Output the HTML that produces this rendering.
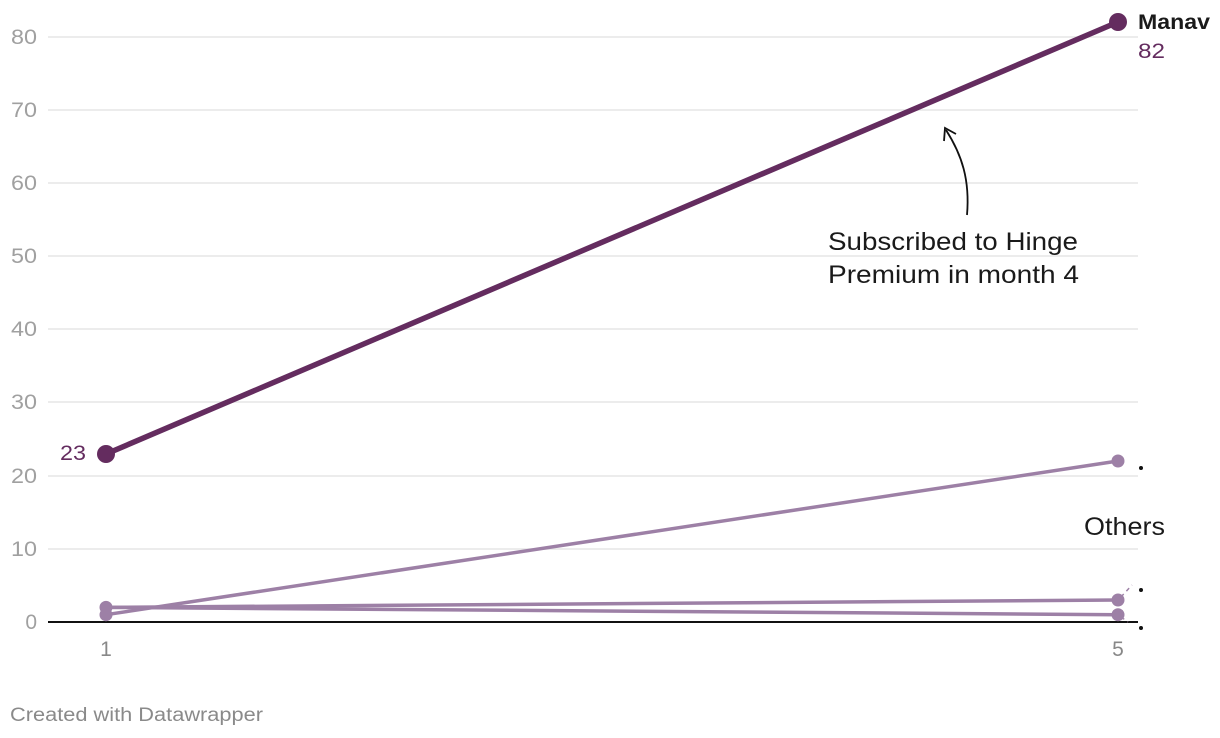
<!DOCTYPE html>
<html><head><meta charset="utf-8"><style>
html,body{margin:0;padding:0;background:#fff;}
svg{display:block;font-family:"Liberation Sans",sans-serif;}
</style></head><body>
<svg width="1220" height="738" viewBox="0 0 1220 738">
<g stroke="#e6e6e6" stroke-width="1.5">
<line x1="48" x2="1138" y1="37" y2="37"/>
<line x1="48" x2="1138" y1="110" y2="110"/>
<line x1="48" x2="1138" y1="183" y2="183"/>
<line x1="48" x2="1138" y1="256" y2="256"/>
<line x1="48" x2="1138" y1="329" y2="329"/>
<line x1="48" x2="1138" y1="402" y2="402"/>
<line x1="48" x2="1138" y1="476" y2="476"/>
<line x1="48" x2="1138" y1="549" y2="549"/>
</g>
<line x1="48" x2="1138" y1="622" y2="622" stroke="#111" stroke-width="2"/>
<g fill="#a0a0a0" font-size="21" text-anchor="end">
<text x="37" y="44" textLength="26" lengthAdjust="spacingAndGlyphs">80</text><text x="37" y="117" textLength="26" lengthAdjust="spacingAndGlyphs">70</text><text x="37" y="190" textLength="26" lengthAdjust="spacingAndGlyphs">60</text>
<text x="37" y="263" textLength="26" lengthAdjust="spacingAndGlyphs">50</text><text x="37" y="336" textLength="26" lengthAdjust="spacingAndGlyphs">40</text><text x="37" y="409" textLength="26" lengthAdjust="spacingAndGlyphs">30</text>
<text x="37" y="483" textLength="26" lengthAdjust="spacingAndGlyphs">20</text><text x="37" y="556" textLength="26" lengthAdjust="spacingAndGlyphs">10</text><text x="37" y="629">0</text>
</g>
<g fill="#888" font-size="21" text-anchor="middle">
<text x="106" y="656">1</text><text x="1118" y="656">5</text>
</g>
<g stroke="#9d80a6" stroke-width="3.5" fill="none">
<line x1="106" y1="614.7" x2="1118" y2="461"/>
<line x1="106" y1="607.4" x2="1118" y2="600"/>
<line x1="106" y1="607.4" x2="1118" y2="614.7"/>
</g>
<g fill="#9d80a6">
<circle cx="106" cy="614.7" r="6.5"/><circle cx="106" cy="607.4" r="6.5"/>
<circle cx="1118" cy="461" r="6.5"/><circle cx="1118" cy="600" r="6.5"/><circle cx="1118" cy="614.7" r="6.5"/>
</g>
<g stroke="#9d80a6" stroke-width="1.5" stroke-dasharray="4,4">
<line x1="1121" y1="597" x2="1132" y2="585"/>
<line x1="1121" y1="617" x2="1128" y2="622"/>
</g>
<g fill="#111">
<circle cx="1141" cy="468" r="2"/><circle cx="1141" cy="590" r="2"/><circle cx="1141" cy="628" r="2"/>
</g>
<text x="1084" y="535" font-size="25" fill="#1a1a1a" textLength="81" lengthAdjust="spacingAndGlyphs">Others</text>
<line x1="106" y1="454" x2="1118" y2="22" stroke="#642c5f" stroke-width="5.5"/>
<circle cx="106" cy="454" r="9" fill="#642c5f"/>
<circle cx="1118" cy="22" r="9" fill="#642c5f"/>
<text x="86" y="460" font-size="21" fill="#642c5f" text-anchor="end" textLength="26" lengthAdjust="spacingAndGlyphs">23</text>
<text x="1138" y="29" font-size="21" font-weight="bold" fill="#1a1a1a" textLength="72" lengthAdjust="spacingAndGlyphs">Manav</text>
<text x="1138" y="58" font-size="21" fill="#642c5f" textLength="27" lengthAdjust="spacingAndGlyphs">82</text>
<path d="M967 215 C970 180 962 155 946 130" stroke="#111" stroke-width="1.8" fill="none"/>
<path d="M944 141 L945 128 L956 134" stroke="#111" stroke-width="1.8" fill="none"/>
<text x="828" y="250" font-size="25" fill="#1a1a1a" textLength="250" lengthAdjust="spacingAndGlyphs">Subscribed to Hinge</text>
<text x="828" y="283" font-size="25" fill="#1a1a1a" textLength="251" lengthAdjust="spacingAndGlyphs">Premium in month 4</text>
<text x="10" y="721" font-size="19" fill="#8a8a8a" textLength="253" lengthAdjust="spacingAndGlyphs">Created with Datawrapper</text>
</svg>
</body></html>
